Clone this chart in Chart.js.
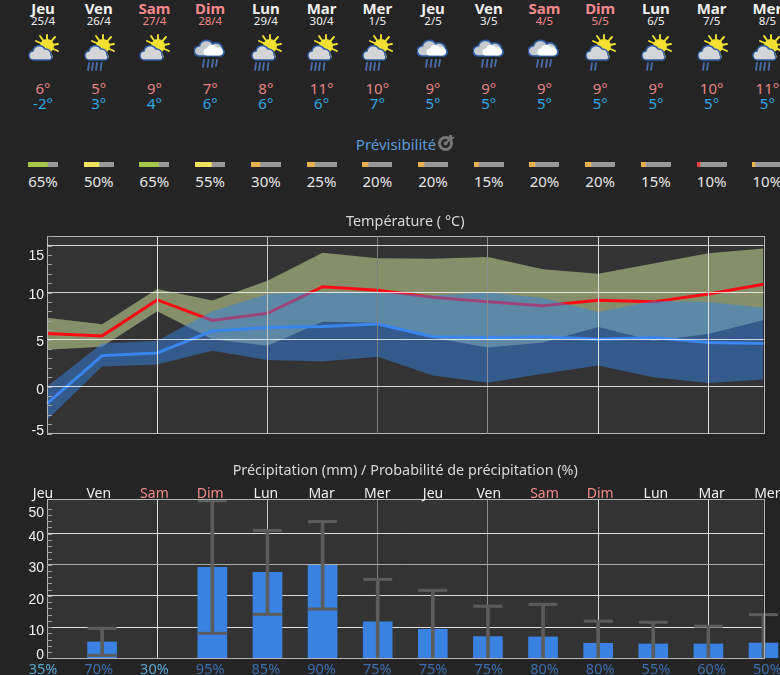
<!DOCTYPE html>
<html>
<head>
<meta charset="utf-8">
<title>Prévisions</title>
<script src="https://cdn.jsdelivr.net/npm/chart.js@4"></script>
<style>
  html, body { margin: 0; padding: 0; background: #242424; }
  body { position: relative; width: 780px; height: 675px; overflow: hidden; font-family: "Noto Sans", sans-serif; color: #eee; }
  canvas { position: absolute; left: 0; }
  .txt { position: absolute; transform: translate(-50%, -50%); white-space: nowrap; line-height: 1; }
  .day { font-size: 15px; font-weight: 700; }
  .date { font-size: 11.5px; }
  .temp { font-size: 15px; }
  .pct { font-size: 15px; }
  .axisday { font-size: 14px; }
  .prob { font-size: 14.5px; }
  .ico { position: absolute; width: 34px; height: 40px; }
</style>
</head>
<body>
<svg width="0" height="0" style="position:absolute">
  <defs>
    <g id="sun">
      <g stroke="#f2e130" stroke-width="1.9" stroke-linecap="round">
        <line x1="20" y1="14" x2="20" y2="3"/><line x1="20" y1="14" x2="28" y2="5"/>
        <line x1="20" y1="14" x2="31" y2="12"/><line x1="20" y1="14" x2="31" y2="19"/>
        <line x1="20" y1="14" x2="25" y2="25"/><line x1="20" y1="14" x2="13" y2="4"/>
        <line x1="20" y1="14" x2="9" y2="9"/>
      </g>
      <circle cx="20" cy="14" r="7" fill="#f2e130"/>
    </g>
    <g id="cloud">
      <path d="M7 28 a4.5 4.5 0 0 1 -1 -9 a6.5 6.5 0 0 1 12 -2 a5.5 5.5 0 0 1 6 6 a3 3 0 0 1 -1 5 z" fill="#d3d5d9" stroke="#2f5da3" stroke-width="1.5"/>
    </g>
    <g id="drops4" stroke="#4a6fa8" stroke-width="1.8" stroke-linecap="round">
      <line x1="6" y1="31" x2="5" y2="38"/><line x1="10" y1="31" x2="9" y2="38"/>
      <line x1="14" y1="31" x2="13" y2="38"/><line x1="18.5" y1="31" x2="17.5" y2="38"/>
    </g>
    <g id="drops2" stroke="#4a6fa8" stroke-width="1.8" stroke-linecap="round">
      <line x1="8" y1="31" x2="7" y2="38"/><line x1="12" y1="31" x2="11" y2="38"/>
    </g>
    <g id="sunCloud"><use href="#sun"/><use href="#cloud"/></g>
    <g id="sunRain"><use href="#sun"/><use href="#cloud"/><use href="#drops4"/></g>
    <g id="sunShower"><use href="#sun"/><use href="#cloud"/><use href="#drops2"/></g>
    <g id="cloudRain">
      <path d="M5 24 a5 5 0 0 1 0.5 -10 a7 7 0 0 1 13 -2 a6.5 6.5 0 0 1 10 4.5 a4.5 4.5 0 0 1 -1 7.5 z" fill="#c6c9cf" stroke="#2f5da3" stroke-width="1.6"/>
      <path d="M13 23.5 a3.5 3.5 0 0 1 0 -7 a5.5 5.5 0 0 1 10 -1 a4 4 0 0 1 3 8 z" fill="#fff"/>
      <g stroke="#4a6fa8" stroke-width="1.8" stroke-linecap="round">
        <line x1="10" y1="28" x2="9" y2="35"/><line x1="14.5" y1="28" x2="13.5" y2="35"/>
        <line x1="19" y1="28" x2="18" y2="35"/><line x1="23" y1="28" x2="22" y2="34"/>
      </g>
    </g>
  </defs>
</svg>

<canvas id="tempChart" width="780" height="240" style="top:205px"></canvas>
<canvas id="rainChart" width="780" height="220" style="top:455px"></canvas>

<script>
const days = ["Jeu","Ven","Sam","Dim","Lun","Mar","Mer","Jeu","Ven","Sam","Dim","Lun","Mar","Mer"];
const dates = ["25/4","26/4","27/4","28/4","29/4","30/4","1/5","2/5","3/5","4/5","5/5","6/5","7/5","8/5"];
const icons = ["sunCloud","sunRain","sunCloud","cloudRain","sunRain","sunRain","sunRain","cloudRain","cloudRain","cloudRain","sunShower","sunShower","sunShower","sunRain"];
const tempHigh = [6,5,9,7,8,11,10,9,9,9,9,9,10,11];
const tempLow = [-2,3,4,6,6,6,7,5,5,5,5,5,5,5];
const predict = [65,50,65,55,30,25,20,20,15,20,20,15,10,10];
const predictLevel = ["good","fair","good","fair","low","low","low","low","low","low","low","low","bad","low"];
const rainProb = [35,70,30,95,85,90,75,75,75,80,80,55,60,50];

const maxLine = [5.65,5.4,9.23,7.05,7.8,10.63,10.25,9.5,9.02,8.6,9.2,9.02,9.86,10.9];
const maxBandTop = [7.33,6.63,10.4,9.16,11.26,14.25,13.65,13.6,13.8,12.5,12.0,13.1,14.2,14.7];
const maxBandLow = [3.93,4.25,8.03,5.05,4.35,6.9,6.8,5.2,4.17,4.7,6.35,4.88,5.6,7.1];
const minLine = [-1.8,3.3,3.58,5.93,6.28,6.39,6.67,5.3,5.23,5.3,5.05,5.23,4.7,4.6];
const minBandTop = [0,4.6,4.88,8.03,9.86,10.07,10.07,9.7,10.03,9.44,7.93,9.1,9.0,8.4];
const minBandLow = [-3.54,2.14,2.35,3.82,2.84,2.67,3.19,1.19,0.42,1.37,2.25,1.0,0.39,0.77];

const rainMm = [null,5.24,null,29.2,27.6,29.8,11.66,9.3,6.95,6.85,4.8,4.6,4.6,4.9];
const rainHigh = [null,9.6,null,50.5,41,43.85,25.3,21.8,16.7,17.3,11.9,11.55,10.3,14];
const rainLow = [null,0.96,null,8,14.1,15.8,0,0,0,0,0,0,0,0];

// tick labels sit a little off their grid lines in the original
const tempTickLabels = ["15","10","5","0","-5"];
const tempTickSpots = [13.92,9.69,4.72,-0.35,-4.79];
const rainTickLabels = ["50","40","30","20","10","0"];
const rainTickSpots = [46.7,38.9,29,18.7,8.8,1.05];

const weekend = d => d === "Sam" || d === "Dim";
const COL_X = 43, COL_W = 55.72;
const colX = i => COL_X + COL_W * i;

function addRow(items, y, cls, colorOf) {
  items.forEach((t, i) => {
    const el = document.createElement("div");
    el.className = "txt " + cls;
    el.textContent = t;
    el.style.left = colX(i) + "px";
    el.style.top = y + "px";
    el.style.color = colorOf(i);
    document.body.appendChild(el);
  });
}

const dayColor = i => weekend(days[i]) ? "#f58a8a" : "#f0f0f0";
addRow(days, 8, "day", dayColor);
addRow(dates, 21, "date", dayColor);
addRow(tempHigh.map(v => v + "°"), 88, "temp", () => "#e58484");
addRow(tempLow.map(v => v + "°"), 103, "temp", () => "#2fa8e4");
addRow(predict.map(v => v + "%"), 181, "pct", () => "#e6e6e6");
addRow(days, 493, "axisday", dayColor);
addRow(rainProb.map(v => v + "%"), 668, "prob", i => rainProb[i] < 50 ? "#5aa6cf" : "#3c6fae");

icons.forEach((name, i) => {
  const ns = "http://www.w3.org/2000/svg";
  const svg = document.createElementNS(ns, "svg");
  svg.setAttribute("class", "ico");
  svg.setAttribute("viewBox", "0 0 34 40");
  svg.style.left = (colX(i) - 16) + "px";
  svg.style.top = "32px";
  const use = document.createElementNS(ns, "use");
  use.setAttribute("href", "#" + name);
  svg.appendChild(use);
  document.body.appendChild(svg);
});

const head = document.createElement("div");
head.className = "txt";
head.style.cssText = "left:396px;top:144px;font-size:15px;color:#5b9ad6";
head.textContent = "Prévisibilité";
document.body.appendChild(head);
document.body.insertAdjacentHTML("beforeend",
  '<svg style="position:absolute;left:438px;top:134px" width="17" height="17" viewBox="0 0 17 17">' +
  '<circle cx="7.5" cy="9.5" r="6" fill="none" stroke="#777" stroke-width="3"/><circle cx="7.5" cy="9.5" r="2" fill="#777"/>' +
  '<path d="M8 9 L14 3" stroke="#777" stroke-width="2.2"/><path d="M11 1 h3 v2 h3 l-3 3 h-3 v-3 z" fill="#777"/></svg>');

const levelColors = { good: "#a5c84b", fair: "#f0e15e", low: "#e9b04e", bad: "#e8413c" };

Chart.defaults.animation = false;
Chart.defaults.responsive = false;
Chart.defaults.plugins.legend.display = false;
Chart.defaults.plugins.tooltip.enabled = false;

// one little stacked bar for each day
predict.forEach((v, i) => {
  const cv = document.createElement("canvas");
  cv.width = 30;
  cv.height = 5;
  cv.style.left = (colX(i) - 15) + "px";
  cv.style.top = "162px";
  document.body.appendChild(cv);
  new Chart(cv, {
    type: "bar",
    data: {
      labels: [days[i]],
      datasets: [
        { data: [v], backgroundColor: levelColors[predictLevel[i]], barPercentage: 1, categoryPercentage: 1 },
        { data: [100 - v], backgroundColor: "#999999", barPercentage: 1, categoryPercentage: 1 },
      ],
    },
    options: {
      indexAxis: "y",
      scales: {
        x: { display: false, stacked: true, min: 0, max: 100 },
        y: { display: false, stacked: true },
      },
    },
  });
});

const plotFrame = {
  id: "plotFrame",
  beforeDraw(chart) {
    const a = chart.chartArea, ctx = chart.ctx;
    ctx.save();
    ctx.fillStyle = "#333333";
    ctx.fillRect(a.left, a.top, a.width, a.height);
    ctx.restore();
  },
  afterDatasetsDraw(chart, args, opts) {
    const a = chart.chartArea, ctx = chart.ctx, s = chart.scales.y;
    ctx.save();
    ctx.strokeStyle = "#b5b5b5";
    ctx.lineWidth = 1;
    ctx.strokeRect(Math.round(a.left) + 0.5, Math.round(a.top) + 0.5, Math.round(a.width), Math.round(a.height));
    ctx.strokeStyle = "#a0a0a0";
    ctx.beginPath();
    s.ticks.forEach(t => {
      if (t.value % opts.step !== 0) return;
      const y = Math.round(s.getPixelForValue(t.value)) + 0.5;
      ctx.moveTo(a.left, y);
      ctx.lineTo(a.left + 5, y);
    });
    ctx.stroke();
    ctx.restore();
  },
};

const xGridColors = { 2: "#e0e0e0", 4: "#c4c4c4", 6: "#7e7e7e", 8: "#8c8c8c", 10: "#e0e0e0", 12: "#e0e0e0" };

function xAxis(z) {
  return {
    offset: false,
    border: { display: false },
    ticks: { display: false, autoSkip: false },
    grid: {
      offset: false,
      z: z,
      drawTicks: false,
      color: ctx => xGridColors[ctx.index] || "transparent",
    },
  };
}

function labelAxis(min, max, spots, labels) {
  return {
    position: "left",
    min: min,
    max: max,
    border: { display: false },
    grid: { display: false, drawTicks: false },
    afterBuildTicks: s => { s.ticks = spots.map(v => ({ value: v })); },
    afterFit: s => { s.width = 47; },
    ticks: {
      autoSkip: false,
      padding: 3,
      color: "#f2f2f2",
      font: { family: "'Liberation Sans', sans-serif", size: 14 },
      callback: (v, i) => labels[i],
    },
  };
}

function gridAxis(min, max, step, z, colorOf) {
  return {
    position: "left",
    min: min,
    max: max,
    border: { display: false },
    afterFit: s => { s.width = 0; },
    ticks: { display: false, stepSize: step, autoSkip: false },
    grid: { z: z, drawTicks: false, color: colorOf },
  };
}

// fullSize off so the title centres on the plot, not the canvas
function chartTitle(text, top, bottom) {
  return {
    display: true,
    fullSize: false,
    text: text,
    color: "#d8d8d8",
    font: { family: "'Noto Sans', sans-serif", size: 14.4, weight: "normal" },
    padding: { top: top, bottom: bottom },
  };
}

const tempGridLines = [0, 5, 10, 15];

new Chart(document.getElementById("tempChart"), {
  type: "line",
  plugins: [plotFrame],
  data: {
    labels: days,
    datasets: [
      { data: maxBandTop, order: 6, borderWidth: 0, pointRadius: 0, backgroundColor: "#858f69", fill: 1 },
      { data: maxBandLow, order: 7, borderWidth: 0, pointRadius: 0 },
      { data: maxLine, order: 5, borderColor: "#ff0a14", borderWidth: 3, pointRadius: 0 },
      { data: minBandTop, order: 3, borderWidth: 0, pointRadius: 0, backgroundColor: "rgba(53,130,230,0.49)", fill: 4 },
      { data: minBandLow, order: 4, borderWidth: 0, pointRadius: 0 },
      { data: minLine, order: 1, borderColor: "#3a86ee", borderWidth: 3, pointRadius: 0 },
    ],
  },
  options: {
    layout: { autoPadding: false, padding: { right: 16.5, bottom: 10 } },
    scales: {
      x: xAxis(1),
      y: gridAxis(-5, 16, 1, 1, ctx => tempGridLines.includes(ctx.tick.value) ? "rgba(255,255,255,0.78)" : "transparent"),
      yLabels: labelAxis(-5, 16, tempTickSpots, tempTickLabels),
    },
    plugins: {
      title: chartTitle("Température ( °C)", 8, 6),
      plotFrame: { step: 1 },
    },
  },
});

const rainGridColors = { 10: "#e0e0e0", 20: "#d8d8d8", 30: "#ababab", 40: "#dcdcdc", 50: "#9a9a9a" };

new Chart(document.getElementById("rainChart"), {
  type: "bar",
  plugins: [plotFrame],
  data: {
    labels: days,
    datasets: [
      { data: rainMm, order: 4, clip: false, grouped: false, backgroundColor: "#3a82e2", barThickness: 29 },
      {
        data: rainHigh.map((v, i) => v === null ? null : [rainLow[i], v]),
        order: 3, clip: false, grouped: false, backgroundColor: "#5c5c5c", barThickness: 3,
      },
      {
        type: "line", data: rainHigh, order: 2, clip: false, showLine: false,
        pointStyle: "line", pointRadius: 14.5, pointBorderWidth: 3, pointBorderColor: "#5c5c5c",
      },
      {
        type: "line", data: rainLow.map(v => v > 0 ? v : null), order: 1, clip: false, showLine: false,
        pointStyle: "line", pointRadius: 14.5, pointBorderWidth: 3, pointBorderColor: "#5c5c5c",
      },
    ],
  },
  options: {
    layout: { autoPadding: false, padding: { right: 16.5, bottom: 16.7 } },
    scales: {
      x: xAxis(0),
      y: gridAxis(0, 51, 2, 0, ctx => rainGridColors[ctx.tick.value] || "transparent"),
      yLabels: labelAxis(0, 51, rainTickSpots, rainTickLabels),
    },
    plugins: {
      title: chartTitle("Précipitation (mm) / Probabilité de précipitation (%)", 7, 20),
      plotFrame: { step: 2 },
    },
  },
});
</script>
</body>
</html>
